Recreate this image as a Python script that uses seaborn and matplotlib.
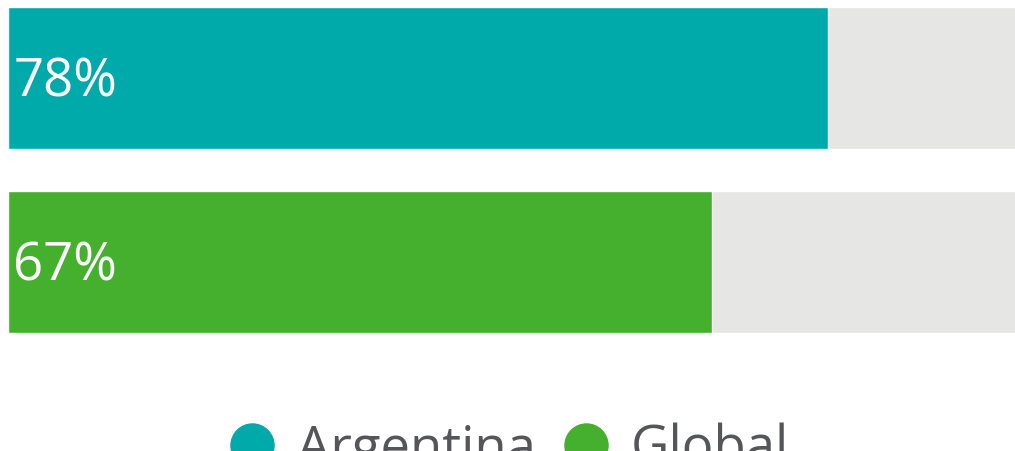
import matplotlib
matplotlib.use("Agg")
import matplotlib.pyplot as plt
from matplotlib.lines import Line2D
import seaborn as sns
import pandas as pd

categories = ["Argentina", "Global"]
values = [78, 67]
full = [100, 100]
colors = ["#00AAAA", "#44B02D"]
track_color = "#E6E6E4"
legend_text_color = "#55565A"

sns.set_theme(style="white")
plt.rcParams["font.family"] = ["Open Sans", "DejaVu Sans"]

W, H = 1015, 451
fig = plt.figure(figsize=(W / 100, H / 100), dpi=100)
top_px, bot_px = 7, 333
ax = fig.add_axes([8 / W, (H - bot_px) / H, (W - 8) / W, (bot_px - top_px) / H])

df = pd.DataFrame({"cat": categories, "val": values, "full": full})
bw = 142 / 184
sns.barplot(data=df, y="cat", x="full", color=track_color, width=bw,
            orient="h", ax=ax, saturation=1)
sns.barplot(data=df, y="cat", x="val", hue="cat", palette=colors, width=bw,
            orient="h", ax=ax, saturation=1, legend=False)

ax.set_xlim(0, (W - 8) / 10.51)
ax.set_ylim(1 + bw / 2, -bw / 2)
ax.axis("off")

for i, v in enumerate(values):
    ax.text(0.5, i + 0.025, f"{v}%", color="white", fontsize=38, va="center", ha="left")

handles = [Line2D([0], [0], marker="o", linestyle="none", markersize=31,
                  markerfacecolor=c, markeredgecolor=c) for c in colors]
leg = fig.legend(handles, categories, loc="center", bbox_to_anchor=(0.5, 1 / H),
                 ncol=2, frameon=False, fontsize=38, handletextpad=0.35,
                 columnspacing=0.45, handlelength=1.0)
for t in leg.get_texts():
    t.set_color(legend_text_color)

fig.savefig("out.png", dpi=100)
